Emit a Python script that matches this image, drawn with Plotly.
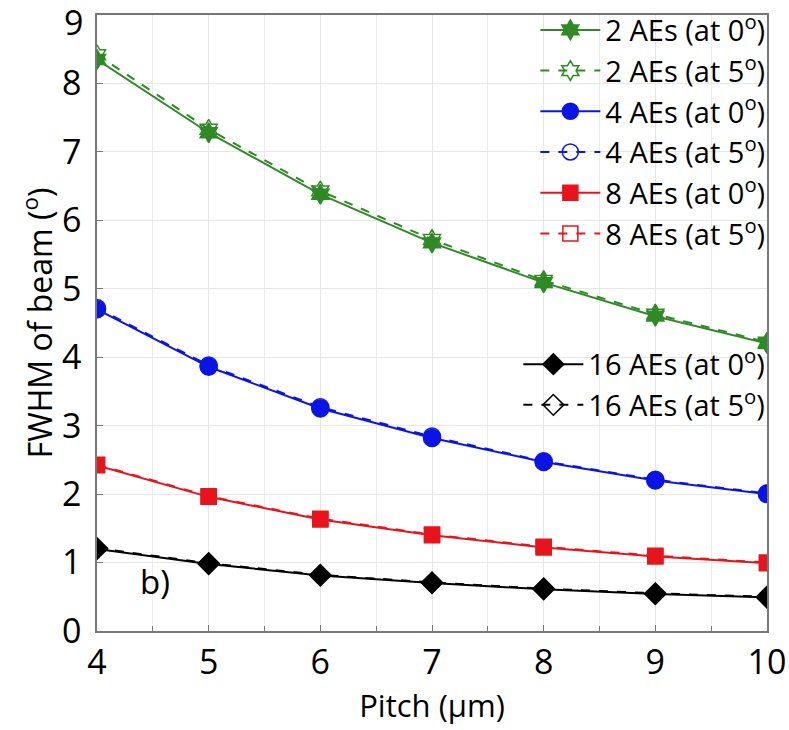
import plotly.graph_objects as go

pitch = [4, 5, 6, 7, 8, 9, 10]
ae2_0 = [8.35, 7.28, 6.38, 5.67, 5.09, 4.60, 4.20]
ae2_5 = [8.42, 7.33, 6.43, 5.72, 5.12, 4.63, 4.22]
ae4_0 = [4.70, 3.86, 3.25, 2.82, 2.47, 2.20, 2.00]
ae4_5 = [4.72, 3.88, 3.27, 2.84, 2.48, 2.21, 2.01]
ae8_0 = [2.42, 1.96, 1.63, 1.40, 1.22, 1.09, 0.99]
ae8_5 = [2.43, 1.97, 1.64, 1.41, 1.23, 1.10, 1.00]
ae16_0 = [1.20, 0.98, 0.81, 0.70, 0.61, 0.54, 0.49]
ae16_5 = [1.21, 0.99, 0.82, 0.71, 0.62, 0.55, 0.50]
y_ticks = [0, 1, 2, 3, 4, 5, 6, 7, 8, 9]

green = "#2f8a25"
blue = "#0a14e6"
red = "#e8141c"
black = "#000000"

series = [
    ("2 AEs (at 0<sup>o</sup>)", ae2_0, green, "hexagram", "solid", 15, "legend"),
    ("2 AEs (at 5<sup>o</sup>)", ae2_5, green, "hexagram-open", "dash", 15, "legend"),
    ("4 AEs (at 0<sup>o</sup>)", ae4_0, blue, "circle", "solid", 17, "legend"),
    ("4 AEs (at 5<sup>o</sup>)", ae4_5, blue, "circle-open", "dash", 17, "legend"),
    ("8 AEs (at 0<sup>o</sup>)", ae8_0, red, "square", "solid", 15, "legend"),
    ("8 AEs (at 5<sup>o</sup>)", ae8_5, red, "square-open", "dash", 15, "legend"),
    ("16 AEs (at 0<sup>o</sup>)", ae16_0, black, "diamond", "solid", 16, "legend2"),
    ("16 AEs (at 5<sup>o</sup>)", ae16_5, black, "diamond-open", "dash", 16, "legend2"),
]

fig = go.Figure()
for name, ys, col, sym, dash, size, leg in series:
    fig.add_trace(go.Scatter(
        x=pitch, y=ys, name=name, mode="lines+markers",
        line=dict(color=col, width=2, dash=dash),
        marker=dict(symbol=sym, size=size, color=col, line=dict(color=col, width=1.5)),
        legend=leg,
    ))

fig.add_annotation(x=4.52, y=0.72, xref="x", yref="y", text="b)", showarrow=False,
                   font=dict(size=33, color="black"))

# top tick label drawn slightly below its gridline (as in the reference) so it is not clipped
top_tick = y_ticks[-1]
fig.add_annotation(x=0, y=top_tick, xref="paper", yref="y", text=str(top_tick), showarrow=False,
                   xanchor="right", yanchor="middle", xshift=-12, yshift=-7,
                   font=dict(size=34, color="black"))

font_family = "Open Sans, Noto Sans, sans-serif"
fig.update_layout(
    width=789, height=730,
    margin=dict(l=97, r=22, t=15, b=99, autoexpand=False),
    paper_bgcolor="white", plot_bgcolor="white",
    font=dict(family=font_family, color="black"),
    showlegend=True,
    legend=dict(x=1.005, y=1.017, xanchor="right", yanchor="top", bgcolor="rgba(255,255,255,0)",
                font=dict(size=29), tracegroupgap=0, itemwidth=60),
    legend2=dict(x=1.005, y=0.325, xanchor="right", yanchor="bottom", bgcolor="rgba(255,255,255,0)",
                 font=dict(size=29), tracegroupgap=0, itemwidth=60),
    xaxis=dict(
        range=[4, 10], tickvals=pitch, ticks="inside", ticklen=6, tickcolor="#777",
        showline=True, linecolor="#777", linewidth=1.5, mirror=True,
        showgrid=True, gridcolor="#e6e6e6", gridwidth=1,
        minor=dict(dtick=0.5, showgrid=True, gridcolor="#ececec", ticks="inside", ticklen=5, tickcolor="#777"),
        tickfont=dict(size=34), zeroline=False, ticklabeloverflow="allow", automargin=False,
        title=dict(text="Pitch (µm)", font=dict(size=31), standoff=6),
    ),
    yaxis=dict(
        range=[0, 9], tickvals=y_ticks, ticktext=[str(v) for v in y_ticks[:-1]] + [""],
        ticks="inside", ticklen=6, tickcolor="#777",
        showline=True, linecolor="#777", linewidth=1.5, mirror=True,
        showgrid=True, gridcolor="#e6e6e6", gridwidth=1,
        tickfont=dict(size=34), zeroline=False, ticklabeloverflow="allow", automargin=False,
        ticklabelstandoff=7,
        title=dict(text="FWHM of beam (<sup>o</sup>)", font=dict(size=32), standoff=0),
    ),
)

fig.write_html("out.html", config={"displayModeBar": False},
               post_script="document.body.style.margin='0px';")
